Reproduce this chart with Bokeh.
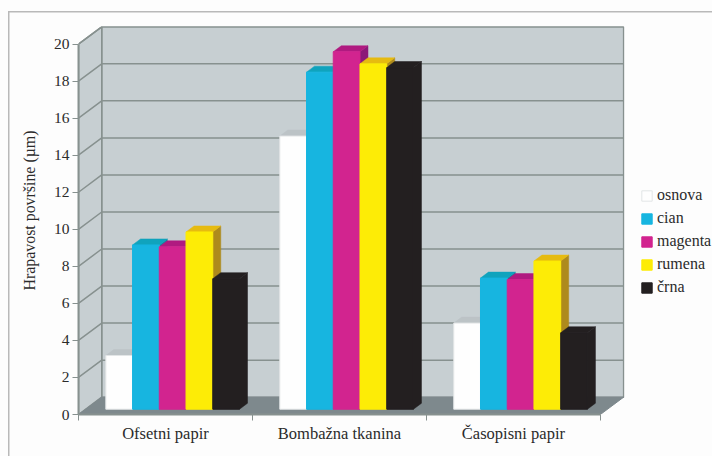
from bokeh.embed import file_html
from bokeh.models import FixedTicker, Legend, LegendItem, Range1d, Title
from bokeh.plotting import figure
from bokeh.resources import INLINE

categories = ["Ofsetni papir", "Bombažna tkanina", "Časopisni papir"]
series_names = ["osnova", "cian", "magenta", "rumena", "črna"]
osnova = [2.9, 14.75, 4.65]
cian = [8.87, 18.2, 7.08]
magenta = [8.77, 19.3, 7.0]
rumena = [9.57, 18.65, 8.0]
crna = [7.05, 18.45, 4.13]
y_ticks = list(range(0, 21, 2))

series_values = [osnova, cian, magenta, rumena, crna]
front_colors = ["#fefefe", "#17b5e0", "#d2248f", "#fdec06", "#231f20"]
edge_colors = ["#e2e5e6", "#17b5e0", "#d2248f", "#fdec06", "#231f20"]
top_colors = ["#bcc3c6", "#10a3bd", "#b01a80", "#e6bb10", "#231f20"]
side_colors = ["#bcc3c6", "#0f8aa3", "#8c1a78", "#ae8a1c", "#231f20"]

WALL_COLOR = "#c7cfd2"
FLOOR_COLOR = "#7e898d"
LINE_COLOR = "#87918f"
TEXT_COLOR = "#2b2b2b"
RULE_COLOR = "#b9b9b9"
FONT = "Liberation Serif"

# Oblique projection, in data units: how far the back wall and a bar's rear
# face are shifted from the front plane.
WALL_DX, WALL_DY = 0.1335, 0.935
BAR_DX, BAR_DY = 0.046, 0.324
BAR_START, BAR_WIDTH = 0.157, 0.1537
BAR_BASE = 0.285

p = figure(
    width=712, height=456, frame_width=546, frame_height=388,
    output_backend="svg", toolbar_location=None,
    x_range=Range1d(0, 3 + WALL_DX + 0.005), y_range=Range1d(0, 20.95),
    min_border_left=78, min_border_right=0, min_border_top=26, min_border_bottom=42,
    background_fill_color=None, border_fill_color=None, outline_line_color=None,
)
p.grid.visible = False

# Thin page rule along the top and left of the chart, painted behind the canvas
p.styles = {
    "background": (
        f"linear-gradient({RULE_COLOR},{RULE_COLOR}) 8px 11px/704px 1.5px no-repeat,"
        f"linear-gradient({RULE_COLOR},{RULE_COLOR}) 8px 11px/1.5px 445px no-repeat,"
        "#fdfdfd"
    )
}

# Walls and floor
back_x = [WALL_DX, 3 + WALL_DX, 3 + WALL_DX, WALL_DX]
back_y = [WALL_DY, WALL_DY, 20 + WALL_DY, 20 + WALL_DY]
p.patch(back_x, back_y, fill_color=WALL_COLOR, line_color=LINE_COLOR, line_width=1.5)
p.patch([0, WALL_DX, WALL_DX, 0], [0, WALL_DY, 20 + WALL_DY, 20],
        fill_color=WALL_COLOR, line_color=LINE_COLOR, line_width=1.5)
p.patch([0, 3, 3 + WALL_DX, WALL_DX], [0, 0, WALL_DY, WALL_DY],
        fill_color=FLOOR_COLOR, line_color=FLOOR_COLOR)

# Gridlines run along the left wall and then across the back wall
for tick in y_ticks[1:]:
    p.line([0, WALL_DX, 3 + WALL_DX], [tick, tick + WALL_DY, tick + WALL_DY],
           line_color=LINE_COLOR, line_width=1.5)

# Rear faces go left to right so a bar's top covers its left neighbour's side;
# the front faces then go on top of everything.
for s, values in enumerate(series_values):
    for g, v in enumerate(values):
        left = g + BAR_START + s * BAR_WIDTH
        right = left + BAR_WIDTH
        top = BAR_BASE + v
        p.patch([right, right + BAR_DX, right + BAR_DX, right],
                [BAR_BASE, BAR_BASE + BAR_DY, top + BAR_DY, top],
                fill_color=side_colors[s], line_color=side_colors[s], line_width=0.5)
        p.patch([left, right, right + BAR_DX, left + BAR_DX],
                [top, top, top + BAR_DY, top + BAR_DY],
                fill_color=top_colors[s], line_color=top_colors[s], line_width=0.5)

legend_items = []
for s, values in enumerate(series_values):
    lefts = [g + BAR_START + s * BAR_WIDTH for g in range(len(categories))]
    rights = [x + BAR_WIDTH for x in lefts]
    r = p.quad(left=lefts, right=rights, bottom=BAR_BASE, top=[BAR_BASE + v for v in values],
               fill_color=front_colors[s], line_color=edge_colors[s], line_width=1)
    legend_items.append(LegendItem(label=series_names[s], renderers=[r]))

# Axes
xaxis = p.xaxis[0]
xaxis.ticker = FixedTicker(ticks=[g + 0.5 for g in range(3)], minor_ticks=[0, 1, 2, 3])
xaxis.major_label_overrides = {g + 0.5: c for g, c in enumerate(categories)}
xaxis.major_tick_line_color = None
xaxis.minor_tick_in = 0
xaxis.minor_tick_out = 6
xaxis.minor_tick_line_color = LINE_COLOR
xaxis.axis_line_color = LINE_COLOR
xaxis.axis_line_width = 2
xaxis.bounds = (0, 3)
xaxis.major_label_standoff = 3
xaxis.major_label_text_font = FONT
xaxis.major_label_text_font_size = "16.5px"
xaxis.major_label_text_color = TEXT_COLOR

yaxis = p.yaxis[0]
yaxis.ticker = FixedTicker(ticks=y_ticks)
yaxis.bounds = (0, 20)
yaxis.axis_line_color = LINE_COLOR
yaxis.axis_line_width = 2
yaxis.major_tick_in = 0
yaxis.major_tick_out = 6
yaxis.major_tick_line_color = LINE_COLOR
yaxis.minor_tick_line_color = None
yaxis.major_label_standoff = 3
yaxis.major_label_text_font = FONT
yaxis.major_label_text_font_size = "15.5px"
yaxis.major_label_text_color = TEXT_COLOR

p.add_layout(Title(text="Hrapavost površine (µm)", align="right", offset=104, standoff=25,
                   text_font=FONT, text_font_style="normal", text_font_size="15.9px",
                   text_color=TEXT_COLOR), "left")

legend = Legend(items=legend_items, location=(16, 118), orientation="vertical",
                background_fill_color=None, border_line_color=None,
                margin=0, padding=0, spacing=5, glyph_width=13, glyph_height=13,
                label_standoff=4, label_text_font=FONT, label_text_font_size="16px",
                label_text_color=TEXT_COLOR, label_height=18)
p.add_layout(legend, "right")

open("out.html", "w").write(file_html(p, INLINE))
